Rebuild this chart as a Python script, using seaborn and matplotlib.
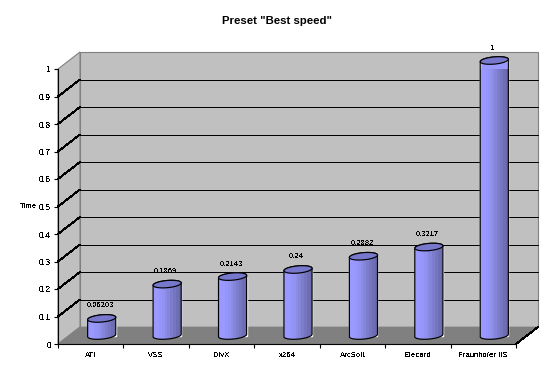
import numpy as np
import pandas as pd
import seaborn as sns
import matplotlib
matplotlib.use('Agg')
import matplotlib.pyplot as plt
from matplotlib.patches import Polygon

# values
codecs = ['ATI', 'VSS', 'DivX', 'x264', 'ArcSoft', 'Elecard', 'Fraunhofer IIS']
times = [0.06203, 0.1869, 0.2143, 0.24, 0.2882, 0.3217, 1]
time_labels = ['0.06203', '0.1869', '0.2143', '0.24', '0.2882', '0.3217', '1']
y_ticks = [0, 0.1, 0.2, 0.3, 0.4, 0.5, 0.6, 0.7, 0.8, 0.9, 1]
y_tick_labels = ['0', '0.1', '0.2', '0.3', '0.4', '0.5', '0.6', '0.7', '0.8', '0.9', '1']

sns.set_style('white')
plt.rcParams['font.family'] = ['Liberation Sans', 'DejaVu Sans']
plt.rcParams['text.antialiased'] = False

W, H = 554, 379
fig = plt.figure(figsize=(W / 100, H / 100), dpi=100, facecolor='white')
ax = fig.add_axes([58 / W, 35 / H, 458 / W, 275 / H])
ax.patch.set_visible(False)

df = pd.DataFrame({'codec': codecs, 'time': times})
sns.barplot(data=df, x='codec', y='time', color='#9999FF', width=0.43, saturation=1, ax=ax, zorder=3)
ax.set_xlim(-0.5, 6.5)
ax.set_ylim(0, 1)

# depth of the fake 3d box, in data units
px_x = 7 / 458
px_y = 1 / 275
dx = 22 * px_x
dy = 17 * px_y
x0, x1 = -0.5, 6.5

# walls and floor
wall = Polygon([(x0 + dx, dy), (x1 + dx, dy), (x1 + dx, 1 + dy), (x0 + dx, 1 + dy)], fc='#C0C0C0', ec='#808080', lw=0.8, clip_on=False, zorder=0)
side = Polygon([(x0, 0), (x0 + dx, dy), (x0 + dx, 1 + dy), (x0, 1)], fc='#C0C0C0', ec='#808080', lw=0.8, clip_on=False, zorder=0)
floor = Polygon([(x0, 0), (x1, 0), (x1 + dx, dy), (x0 + dx, dy)], fc='#808080', ec='#808080', lw=0.5, clip_on=False, zorder=1)
ax.add_patch(wall)
ax.add_patch(side)
ax.add_patch(floor)

# grid: flat part on the back wall, slanted part on the side wall
for v in y_ticks[1:-1]:
    ax.plot([x0 + dx, x1 + dx], [v + dy, v + dy], color='black', lw=0.72, clip_on=False, zorder=2, snap=True)
    ax.plot([x0, x0 + dx], [v, v + dy], color='black', lw=0.72, clip_on=False, zorder=2, antialiased=False)
ax.plot([x1, x1 + dx], [0, dy], color='black', lw=0.72, clip_on=False, zorder=2, antialiased=False)

# cylinders: the seaborn bars pushed back to mid depth, with round ends and shading
shade = np.array([[[153, 153, 255], [153, 153, 255], [150, 150, 250], [146, 146, 240], [140, 140, 230],
                   [133, 133, 218], [125, 125, 205], [117, 117, 192], [110, 110, 180], [104, 104, 170]]], dtype=np.uint8)
b = 3.6 * px_y
tilt = 1.2 * px_y
t = np.linspace(0, np.pi, 30)

for bar, label in zip(ax.patches, time_labels):
    w = bar.get_width()
    cx = bar.get_x() + w / 2 + dx / 2
    top = bar.get_height() + dy / 2
    low = dy / 2
    bar.set_x(bar.get_x() + dx / 2)
    bar.set_y(low)
    bar.set_clip_on(False)

    xs = np.cos(t) * w / 2
    ys = np.sin(t) * b + xs / (w / 2) * tilt
    upper = np.column_stack([cx + xs, top + ys])
    lower_top = np.column_stack([cx + xs[::-1], top - np.sin(t[::-1]) * b + xs[::-1] / (w / 2) * tilt])
    bottom = np.column_stack([cx - xs, low - np.sin(t) * b - xs / (w / 2) * tilt])

    body = Polygon(np.vstack([upper, bottom]), fc='none', ec='black', lw=0.85, clip_on=False, zorder=5)
    ax.add_patch(body)
    img = ax.imshow(shade, extent=[cx - w / 2, cx + w / 2, low - 2 * b, top + 2 * b], aspect='auto', zorder=4, interpolation='nearest')
    img.set_clip_path(body)

    cap = Polygon(np.vstack([upper, lower_top]), fc='#7777CC', ec='black', lw=0.85, clip_on=False, zorder=6)
    ax.add_patch(cap)
    ax.text(cx - 1.5 * px_x, top + 12.5 * px_y, label, ha='center', va='center', fontsize=5.5, color='black', zorder=7, clip_on=False)

ax.set_xlim(x0, x1)
ax.set_ylim(0, 1)

# axes
sns.despine(ax=ax, top=True, right=True)
for s in ['left', 'bottom']:
    ax.spines[s].set_color('black')
    ax.spines[s].set_linewidth(0.8)
    ax.spines[s].set_zorder(8)
ax.set_yticks(y_ticks)
ax.set_yticklabels(y_tick_labels, fontsize=6.2)
ax.set_xticks(range(len(codecs)))
ax.set_xticklabels(codecs, fontsize=5.6)
ax.set_xticks(np.arange(x0, x1 + 0.5, 1), minor=True)
ax.tick_params(axis='y', length=3, width=0.8, color='black', pad=2, left=True, labelcolor='black')
ax.tick_params(axis='x', which='major', length=0, pad=6, labelcolor='black')
ax.tick_params(axis='x', which='minor', length=3, width=0.8, color='black', bottom=True)
ax.set_xlabel('')
ax.set_ylabel('')

fig.text(28 / W, 1 - 206 / H, 'Time', fontsize=5.6, ha='center', va='center', color='black')
fig.text(277 / W, 1 - 21.5 / H, 'Preset "Best speed"', fontsize=8.2, fontweight='bold', ha='center', va='center', color='black', antialiased=True)

fig.savefig('out.png', dpi=100)
